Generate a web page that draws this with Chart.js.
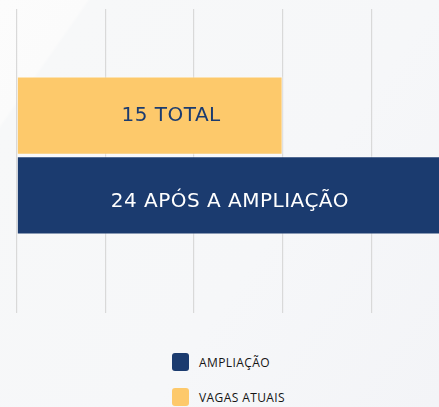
<!DOCTYPE html>
<html>
<head>
<meta charset="utf-8">
<script src="https://cdn.jsdelivr.net/npm/chart.js@4"></script>
<style>
  html, body { margin: 0; padding: 0; width: 439px; height: 407px; overflow: hidden; }
  body {
    background: linear-gradient(125deg, #fcfcfc 0%, #fbfbfb 12%, #f7f8f9 12.5%, #f6f7f9 60%, #f3f4f7 100%);
    font-family: "Open Sans", "Noto Sans", sans-serif;
    position: relative;
  }
  #wrap { position: absolute; left: 0; top: 0; width: 442px; height: 313px; }
  #legend { position: absolute; left: 172px; top: 353px; }
  .item { display: flex; align-items: center; height: 18px; margin-bottom: 17px; }
  .box { width: 17px; height: 18px; border-radius: 3px; margin-right: 10px; }
  .txt { font-size: 12px; color: #141414; letter-spacing: 0.4px; font-weight: 500; }
</style>
</head>
<body>
<div id="wrap"><canvas id="c" width="442" height="313"></canvas></div>
<div id="legend"></div>
<script>
const categories = [''];
const seriesNames = ['VAGAS ATUAIS', 'AMPLIAÇÃO'];
const vagasAtuais = [15];
const ampliacao = [24];
const labelSuffixes = ['TOTAL', 'APÓS A AMPLIAÇÃO'];
const xTicksMax = 24;
const xTickStep = 5;

const colors = ['#fdc96b', '#1b3b6f'];
const labelColors = ['#1b3b6f', '#ffffff'];
const labelOffsetsX = [21, 0];
const labelOffsetsY = [5.5, 12];

const barLabels = {
  id: 'barLabels',
  afterDatasetsDraw(chart) {
    const ctx = chart.ctx;
    ctx.save();
    ctx.font = '400 20px "DejaVu Sans", sans-serif';
    try { ctx.letterSpacing = '0.5px'; } catch (e) {}
    ctx.textAlign = 'center';
    ctx.textBaseline = 'alphabetic';
    chart.data.datasets.forEach((ds, i) => {
      const meta = chart.getDatasetMeta(i);
      meta.data.forEach((bar, j) => {
        const cx = (bar.base + bar.x) / 2 + labelOffsetsX[i];
        ctx.fillStyle = labelColors[i];
        ctx.fillText(ds.data[j] + ' ' + labelSuffixes[i], cx, bar.y + labelOffsetsY[i]);
      });
    });
    ctx.restore();
  }
};

const chart = new Chart(document.getElementById('c'), {
  type: 'bar',
  data: {
    labels: categories,
    datasets: [
      { label: seriesNames[0], data: vagasAtuais, backgroundColor: colors[0], borderColor: 'rgba(255,255,255,0.55)', borderWidth: 1 },
      { label: seriesNames[1], data: ampliacao, backgroundColor: colors[1], borderColor: 'rgba(255,255,255,0.55)', borderWidth: 1 }
    ]
  },
  options: {
    indexAxis: 'y',
    responsive: false,
    animation: false,
    layout: { padding: { left: 17, top: 9, right: 0, bottom: 0 } },
    datasets: { bar: { categoryPercentage: 0.545, barPercentage: 0.98 } },
    plugins: { legend: { display: false }, tooltip: { enabled: false } },
    scales: {
      y: { display: false },
      x: {
        min: 0,
        max: xTicksMax,
        ticks: { display: false, stepSize: xTickStep },
        border: { display: false },
        grid: { color: '#d9d9d9', lineWidth: 1.2, tickLength: 11, drawTicks: true }
      }
    }
  },
  plugins: [barLabels]
});

const legend = document.getElementById('legend');
chart.data.datasets.slice().reverse().forEach(ds => {
  const item = document.createElement('div');
  item.className = 'item';
  const box = document.createElement('div');
  box.className = 'box';
  box.style.background = ds.backgroundColor;
  const t = document.createElement('span');
  t.className = 'txt';
  t.textContent = ds.label;
  item.appendChild(box);
  item.appendChild(t);
  legend.appendChild(item);
});
</script>
</body>
</html>
